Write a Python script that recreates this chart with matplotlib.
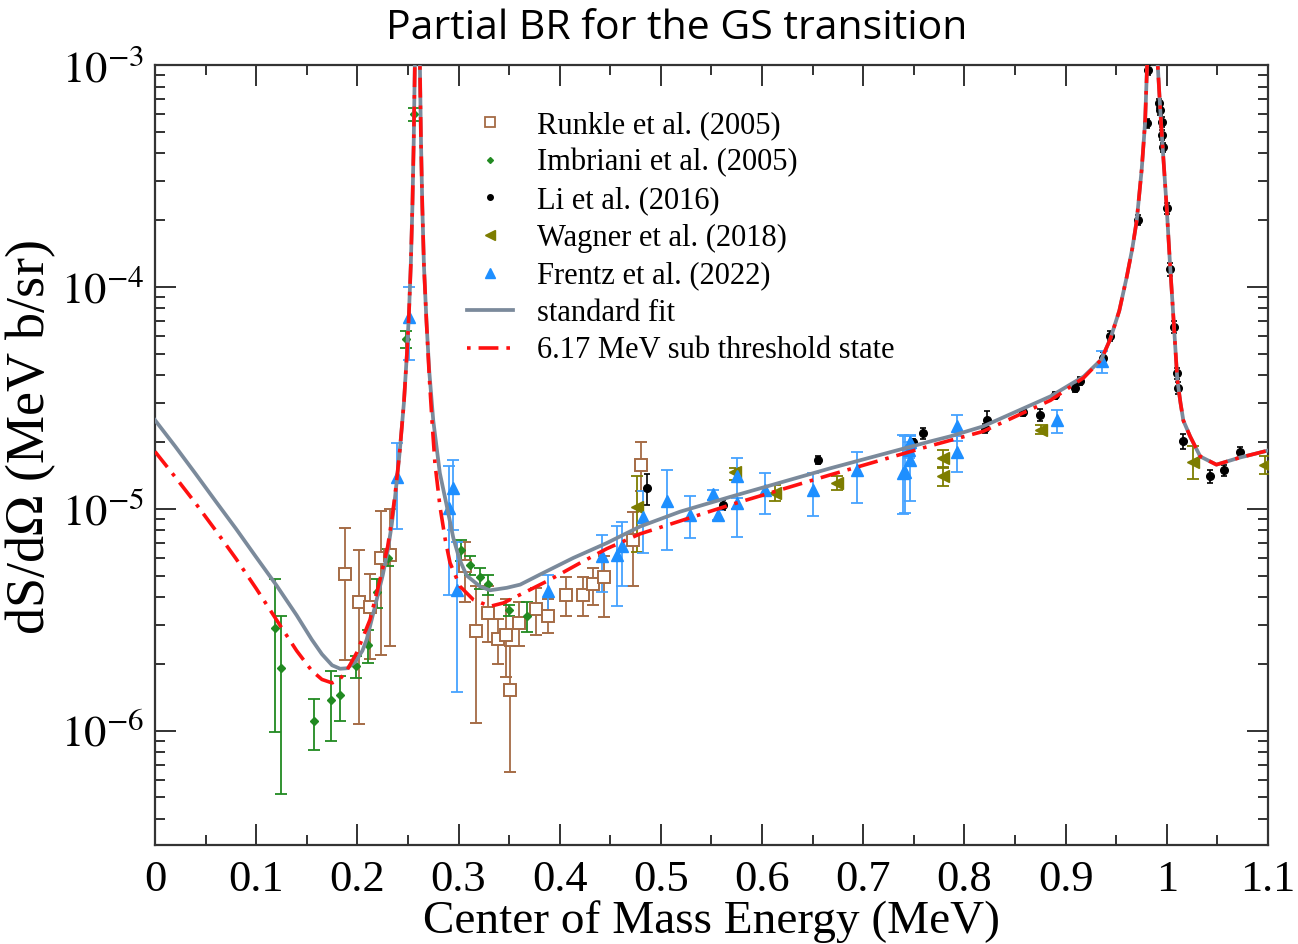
import matplotlib
matplotlib.use("Agg")
import matplotlib.pyplot as plt
import numpy as np
from matplotlib.lines import Line2D
from matplotlib.ticker import MultipleLocator, LogLocator, FixedLocator, FuncFormatter

plt.rcParams['font.family'] = ['Liberation Serif', 'DejaVu Serif']
plt.rcParams['mathtext.fontset'] = 'stix'

# R-matrix curves (E_cm in MeV, dS/dOmega)
fit_x = [0.000, 0.020, 0.040, 0.060, 0.080, 0.100, 0.120, 0.140, 0.155, 0.165,
         0.175, 0.183, 0.190, 0.198, 0.205, 0.2092, 0.2191, 0.2250, 0.2300, 0.2340,
         0.2372, 0.2400, 0.2421, 0.2460, 0.2490, 0.2510, 0.2528, 0.2544, 0.2557, 0.2568,
         0.2593, 0.2618, 0.2629, 0.2642, 0.2658, 0.2683, 0.2710, 0.2750, 0.2815, 0.2880,
         0.2948, 0.3010, 0.3080, 0.3210, 0.3311, 0.3476, 0.3610, 0.3805, 0.4134, 0.4464,
         0.4793, 0.5190, 0.5683, 0.6671, 0.7660, 0.7860, 0.8183, 0.8850, 0.9180, 0.9352,
         0.9440, 0.9530, 0.9604, 0.9660, 0.9703, 0.9752, 0.9785, 0.9805, 0.9858, 0.9910,
         0.9935, 0.9958, 0.9999, 1.0030, 1.0071, 1.0104, 1.0135, 1.0163, 1.0230, 1.0330,
         1.0490, 1.0720, 1.1000]
fit_y = [2.51e-5, 1.91e-5, 1.44e-5, 1.08e-5, 8.13e-6, 6.05e-6, 4.52e-6, 3.31e-6, 2.57e-6, 2.21e-6,
         1.97e-6, 1.90e-6, 1.91e-6, 2.04e-6, 2.29e-6, 2.57e-6, 3.89e-6, 5.0e-6, 6.46e-6, 8.5e-6,
         1.12e-5, 1.48e-5, 1.86e-5, 3.0e-5, 5.0e-5, 7.6e-5, 1.25e-4, 2.3e-4, 4.5e-4, 1.0e-3,
         6.0e-3, 1.0e-3, 4.5e-4, 2.3e-4, 1.25e-4, 7.0e-5, 4.2e-5, 2.5e-5, 1.45e-5, 1.05e-5,
         7.4e-6, 5.9e-6, 5.0e-6, 4.47e-6, 4.29e-6, 4.40e-6, 4.55e-6, 5.05e-6, 6.0e-6, 7.0e-6,
         8.31e-6, 9.7e-6, 1.13e-5, 1.52e-5, 2.01e-5, 2.12e-5, 2.35e-5, 3.21e-5, 3.95e-5, 4.7e-5,
         5.8e-5, 7.8e-5, 1.11e-4, 1.5e-4, 2.0e-4, 3.4e-4, 5.5e-4, 1.0e-3, 5.0e-3, 1.0e-3,
         6.3e-4, 4.3e-4, 2.26e-4, 1.3e-4, 6.6e-5, 3.8e-5, 3.0e-5, 2.5e-5, 2.12e-5, 1.72e-5,
         1.58e-5, 1.70e-5, 1.83e-5]

sub_x = [0.000, 0.020, 0.040, 0.060, 0.080, 0.100, 0.120, 0.140, 0.155, 0.165,
         0.175, 0.183, 0.190, 0.1993, 0.2125, 0.2224, 0.2300, 0.2340, 0.2372, 0.2400,
         0.2421, 0.2460, 0.2490, 0.2510, 0.2528, 0.2544, 0.2557, 0.2568, 0.2593, 0.2618,
         0.2629, 0.2642, 0.2658, 0.2683, 0.2710, 0.2740, 0.2767, 0.2817, 0.2870, 0.2916,
         0.3014, 0.3146, 0.3311, 0.3443, 0.3674, 0.3904, 0.4200, 0.4464, 0.4793, 0.5683,
         0.6671, 0.7660, 0.8183, 0.8850, 0.9180, 0.9352, 0.9440, 0.9530, 0.9604, 0.9660,
         0.9703, 0.9752, 0.9785, 0.9805, 0.9858, 0.9910, 0.9935, 0.9958, 0.9999, 1.0030,
         1.0071, 1.0104, 1.0135, 1.0163, 1.0230, 1.0330, 1.0490, 1.0720, 1.1000]
sub_y = [1.81e-5, 1.39e-5, 1.06e-5, 7.98e-6, 5.96e-6, 4.37e-6, 3.16e-6, 2.29e-6, 1.86e-6, 1.70e-6,
         1.64e-6, 1.71e-6, 1.88e-6, 2.24e-6, 3.16e-6, 4.79e-6, 6.76e-6, 8.9e-6, 1.15e-5, 1.51e-5,
         1.86e-5, 3.0e-5, 5.0e-5, 7.6e-5, 1.25e-4, 2.3e-4, 4.5e-4, 1.0e-3, 6.0e-3, 1.0e-3,
         4.5e-4, 2.3e-4, 1.25e-4, 7.0e-5, 4.0e-5, 2.4e-5, 1.6e-5, 1.02e-5, 7.2e-6, 5.7e-6,
         4.47e-6, 3.89e-6, 3.63e-6, 3.76e-6, 4.24e-6, 4.79e-6, 5.69e-6, 6.6e-6, 7.7e-6, 1.04e-5,
         1.42e-5, 1.92e-5, 2.23e-5, 3.08e-5, 3.9e-5, 4.7e-5, 5.8e-5, 7.8e-5, 1.11e-4, 1.5e-4,
         2.0e-4, 3.4e-4, 5.5e-4, 1.0e-3, 5.0e-3, 1.0e-3, 6.3e-4, 4.3e-4, 2.26e-4, 1.3e-4,
         6.6e-5, 3.8e-5, 3.0e-5, 2.5e-5, 2.12e-5, 1.72e-5, 1.58e-5, 1.70e-5, 1.83e-5]

# Runkle et al. (2005)
runkle_x = [0.1878, 0.2019, 0.2125, 0.2230, 0.2323, 0.3064, 0.3173, 0.3294, 0.3393, 0.3469,
            0.3509, 0.3601, 0.3766, 0.3881, 0.4062, 0.4227, 0.4332, 0.4438, 0.4728, 0.4806]
runkle_y = [5.1e-6, 3.8e-6, 3.6e-6, 6.0e-6, 6.2e-6, 5.5e-6, 2.8e-6, 3.4e-6, 2.6e-6, 2.7e-6,
            1.53e-6, 3.05e-6, 3.55e-6, 3.3e-6, 4.1e-6, 4.1e-6, 4.6e-6, 4.9e-6, 7.2e-6, 1.58e-5]
runkle_lo = [2.07e-6, 1.07e-6, 2.1e-6, 2.2e-6, 2.4e-6, 3.8e-6, 1.08e-6, 2.5e-6, 2.0e-6, 1.74e-6,
             6.5e-7, 2.4e-6, 2.7e-6, 2.75e-6, 3.3e-6, 3.3e-6, 3.7e-6, 3.25e-6, 4.5e-6, 1.2e-5]
runkle_hi = [8.2e-6, 6.5e-6, 5.1e-6, 9.8e-6, 1.0e-5, 7.1e-6, 4.5e-6, 4.5e-6, 3.2e-6, 3.9e-6,
             2.4e-6, 3.8e-6, 4.4e-6, 3.9e-6, 4.9e-6, 4.9e-6, 5.4e-6, 6.1e-6, 9.7e-6, 2.0e-5]

# Imbriani et al. (2005)
imb_x = [0.1186, 0.1245, 0.1571, 0.1736, 0.1828, 0.1987, 0.2102, 0.2191, 0.2306, 0.2485,
         0.2562, 0.3021, 0.3113, 0.3212, 0.3294, 0.3502, 0.3674]
imb_y = [2.9e-6, 1.91e-6, 1.10e-6, 1.38e-6, 1.45e-6, 1.95e-6, 2.44e-6, 4.2e-6, 6.0e-6, 5.8e-5,
         6.0e-4, 6.5e-6, 5.6e-6, 4.9e-6, 4.6e-6, 3.5e-6, 3.3e-6]
imb_lo = [9.9e-7, 5.2e-7, 8.2e-7, 9.0e-7, 1.10e-6, 1.73e-6, 2.02e-6, 3.57e-6, 5.5e-6, 5.3e-5,
          5.6e-4, 5.8e-6, 5.05e-6, 4.35e-6, 4.1e-6, 3.3e-6, 2.77e-6]
imb_hi = [4.8e-6, 3.3e-6, 1.39e-6, 1.85e-6, 1.77e-6, 2.16e-6, 2.85e-6, 4.82e-6, 6.6e-6, 6.3e-5,
          6.4e-4, 7.2e-6, 6.1e-6, 5.4e-6, 5.05e-6, 3.7e-6, 3.8e-6]

# Li et al. (2016)
li_x = [0.4860, 0.5617, 0.6556, 0.7495, 0.7594, 0.8220, 0.8205, 0.8582, 0.8747, 0.8895,
        0.9093, 0.9142, 0.9372, 0.9439, 0.9719, 0.9801, 0.9817, 0.9926, 0.9933, 0.9950,
        0.9956, 0.9959, 0.9999, 1.0030, 1.0071, 1.0098, 1.0114, 1.0163, 1.0427, 1.0565, 1.0724]
li_y = [1.24e-5, 1.04e-5, 1.66e-5, 1.99e-5, 2.19e-5, 2.52e-5, 2.3e-5, 2.72e-5, 2.65e-5, 3.24e-5,
        3.5e-5, 3.77e-5, 4.78e-5, 6.0e-5, 2.0e-4, 5.46e-4, 9.5e-4, 6.72e-4, 6.27e-4, 5.56e-4,
        4.84e-4, 4.26e-4, 2.26e-4, 1.2e-4, 6.62e-5, 4.08e-5, 3.5e-5, 2.01e-5, 1.40e-5, 1.49e-5, 1.81e-5]
li_rel_err = [0.16, 0.05, 0.04, 0.04, 0.06, 0.09, 0.05, 0.04, 0.06, 0.04,
              0.04, 0.04, 0.06, 0.05, 0.05, 0.05, 0.05, 0.05, 0.05, 0.05,
              0.05, 0.05, 0.06, 0.07, 0.06, 0.06, 0.06, 0.08, 0.07, 0.06, 0.05]

# Wagner et al. (2018)
wag_x = [0.4760, 0.5732, 0.6128, 0.6737, 0.7791, 0.7791, 0.8753, 1.0262, 1.0970]
wag_y = [1.02e-5, 1.46e-5, 1.18e-5, 1.31e-5, 1.69e-5, 1.40e-5, 2.27e-5, 1.63e-5, 1.58e-5]
wag_lo = [6.36e-6, 1.35e-5, 1.08e-5, 1.22e-5, 1.55e-5, 1.27e-5, 2.17e-5, 1.36e-5, 1.43e-5]
wag_hi = [1.40e-5, 1.53e-5, 1.28e-5, 1.40e-5, 1.84e-5, 1.53e-5, 2.38e-5, 1.91e-5, 1.72e-5]

# Frentz et al. (2022)
fr_x = [0.2389, 0.2514, 0.2909, 0.2942, 0.2981, 0.3887, 0.4414, 0.4563, 0.4612, 0.4826,
        0.5057, 0.5288, 0.5518, 0.5567, 0.5749, 0.5749, 0.6029, 0.6506, 0.6935, 0.7396,
        0.7413, 0.7462, 0.7455, 0.7462, 0.7923, 0.7923, 0.8912, 0.9355]
fr_y = [1.39e-5, 7.3e-5, 1.01e-5, 1.24e-5, 4.3e-6, 4.24e-6, 6.1e-6, 6.2e-6, 6.8e-6, 9.2e-6,
        1.08e-5, 9.4e-6, 1.16e-5, 9.4e-6, 1.4e-5, 1.06e-5, 1.22e-5, 1.22e-5, 1.5e-5, 1.45e-5,
        1.47e-5, 1.66e-5, 1.84e-5, 2.0e-5, 1.81e-5, 2.35e-5, 2.52e-5, 4.61e-5]
fr_lo = [8.1e-6, 4.7e-5, 4.1e-6, 8.0e-6, 1.5e-6, 3.4e-6, 4.2e-6, 3.66e-6, 4.5e-6, 6.3e-6,
         6.5e-6, 7.4e-6, 1.1e-5, 8.9e-6, 7.45e-6, 1.0e-5, 9.5e-6, 9.3e-6, 1.06e-5, 9.5e-6,
         9.6e-6, 1.08e-5, 1.7e-5, 1.85e-5, 1.47e-5, 2.01e-5, 2.19e-5, 4.08e-5]
fr_hi = [1.98e-5, 1.0e-4, 1.56e-5, 1.65e-5, 7.1e-6, 5.05e-6, 7.6e-6, 8.4e-6, 8.7e-6, 1.2e-5,
         1.49e-5, 1.14e-5, 1.22e-5, 9.9e-6, 1.69e-5, 1.12e-5, 1.45e-5, 1.45e-5, 1.81e-5, 2.15e-5,
         2.12e-5, 2.12e-5, 2.0e-5, 2.15e-5, 2.12e-5, 2.65e-5, 2.79e-5, 5.12e-5]

x_ticks = [0.0, 0.1, 0.2, 0.3, 0.4, 0.5, 0.6, 0.7, 0.8, 0.9, 1.0, 1.1]
x_ticklabels = ['0', '0.1', '0.2', '0.3', '0.4', '0.5', '0.6', '0.7', '0.8', '0.9', '1', '1.1']

c_runkle = '#a56b45'
c_imb = '#218a21'
c_li = '#000000'
c_wag = '#7d7d00'
c_fr = '#1e8fff'
c_fit = '#7b8a9b'
c_sub = '#ff1010'
serif = ['Liberation Serif', 'DejaVu Serif']


def yerr(y, lo, hi):
    y = np.array(y)
    return [y - np.array(lo), np.array(hi) - y]


fig = plt.figure(figsize=(12.98, 9.44), dpi=100)
ax = fig.add_axes([0.1194, 0.1049, 0.8575, 0.8262])

eb = dict(linestyle='none', elinewidth=1.3, capsize=4, capthick=1.3)
ax.errorbar(runkle_x, runkle_y, yerr=yerr(runkle_y, runkle_lo, runkle_hi), marker='s', ms=8,
            mfc='white', mec=c_runkle, mew=1.4, ecolor=c_runkle, zorder=3, **eb)
ax.errorbar(imb_x, imb_y, yerr=yerr(imb_y, imb_lo, imb_hi), marker='D', ms=4,
            color=c_imb, ecolor=c_imb, zorder=3, **eb)
li_e = np.array(li_y) * np.array(li_rel_err)
ax.errorbar(li_x, li_y, yerr=li_e, marker='o', ms=5.5, color=c_li, ecolor=c_li,
            zorder=3, linestyle='none', elinewidth=1.2, capsize=2.5, capthick=1.2)
ax.errorbar(wag_x, wag_y, yerr=yerr(wag_y, wag_lo, wag_hi), marker='<', ms=8,
            color=c_wag, ecolor=c_wag, zorder=3, **eb)
ax.errorbar(fr_x, fr_y, yerr=yerr(fr_y, fr_lo, fr_hi), marker='^', ms=9,
            color=c_fr, ecolor='#45a2ff', zorder=3, **eb)

ax.plot(fit_x, fit_y, color=c_fit, lw=2.7, zorder=4, solid_joinstyle='round')
ax.plot(sub_x, sub_y, color=c_sub, lw=2.6, zorder=5, linestyle=(0, (5.5, 2.2, 1.0, 2.2)))

ax.set_yscale('log')
ax.set_xlim(0, 1.1)
ax.set_ylim(3.05e-7, 1e-3)

ax.xaxis.set_major_locator(FixedLocator(x_ticks))
ax.set_xticklabels(x_ticklabels)
ax.xaxis.set_minor_locator(MultipleLocator(0.05))
ax.yaxis.set_major_locator(LogLocator(base=10))
ax.yaxis.set_minor_locator(LogLocator(base=10, subs=np.arange(2, 10)))
ax.yaxis.set_major_formatter(FuncFormatter(lambda v, p: r'$10^{%d}$' % round(np.log10(v))))

ax.tick_params(which='both', direction='in', top=True, right=True, width=1.3, colors='#222222')
ax.tick_params(which='major', length=15)
ax.tick_params(which='minor', length=7)
ax.tick_params(axis='x', labelsize=32, pad=11, labelcolor='black')
ax.tick_params(axis='y', labelsize=32, pad=8, labelcolor='black')
for s in ax.spines.values():
    s.set_linewidth(1.6)
    s.set_color('#333333')

ax.set_xlabel('Center of Mass Energy (MeV)', fontsize=34, family=serif, labelpad=0)
ax.set_ylabel(r'dS/d$\Omega$ (MeV b/sr)', fontsize=39, family=serif)
ax.yaxis.set_label_coords(-0.087, 0.522)

fig.text(0.5216, 0.970, 'Partial BR for the GS transition', family='Open Sans',
         fontsize=29.5, ha='center', va='center')

handles = [
    Line2D([], [], linestyle='none', marker='s', ms=6.5, mfc='white', mec=c_runkle, mew=1.3),
    Line2D([], [], linestyle='none', marker='D', ms=3, color=c_imb),
    Line2D([], [], linestyle='none', marker='o', ms=4, color=c_li),
    Line2D([], [], linestyle='none', marker='<', ms=6.5, color=c_wag),
    Line2D([], [], linestyle='none', marker='^', ms=7, color=c_fr),
    Line2D([], [], color=c_fit, lw=2.7),
    Line2D([], [], color=c_sub, lw=2.6, linestyle=(0, (1.0, 2.2, 5.5, 2.2))),
]
labels = ['Runkle et al. (2005)', 'Imbriani et al. (2005)', 'Li et al. (2016)',
          'Wagner et al. (2018)', 'Frentz et al. (2022)', 'standard fit',
          '6.17 MeV sub threshold state']
ax.legend(handles, labels, loc='upper left', bbox_to_anchor=(0.2668, 0.961), frameon=False,
          prop={'family': serif, 'size': 22}, handlelength=1.5, handletextpad=0.78,
          labelspacing=0.28, borderpad=0)

fig.savefig('out.png', dpi=100)
